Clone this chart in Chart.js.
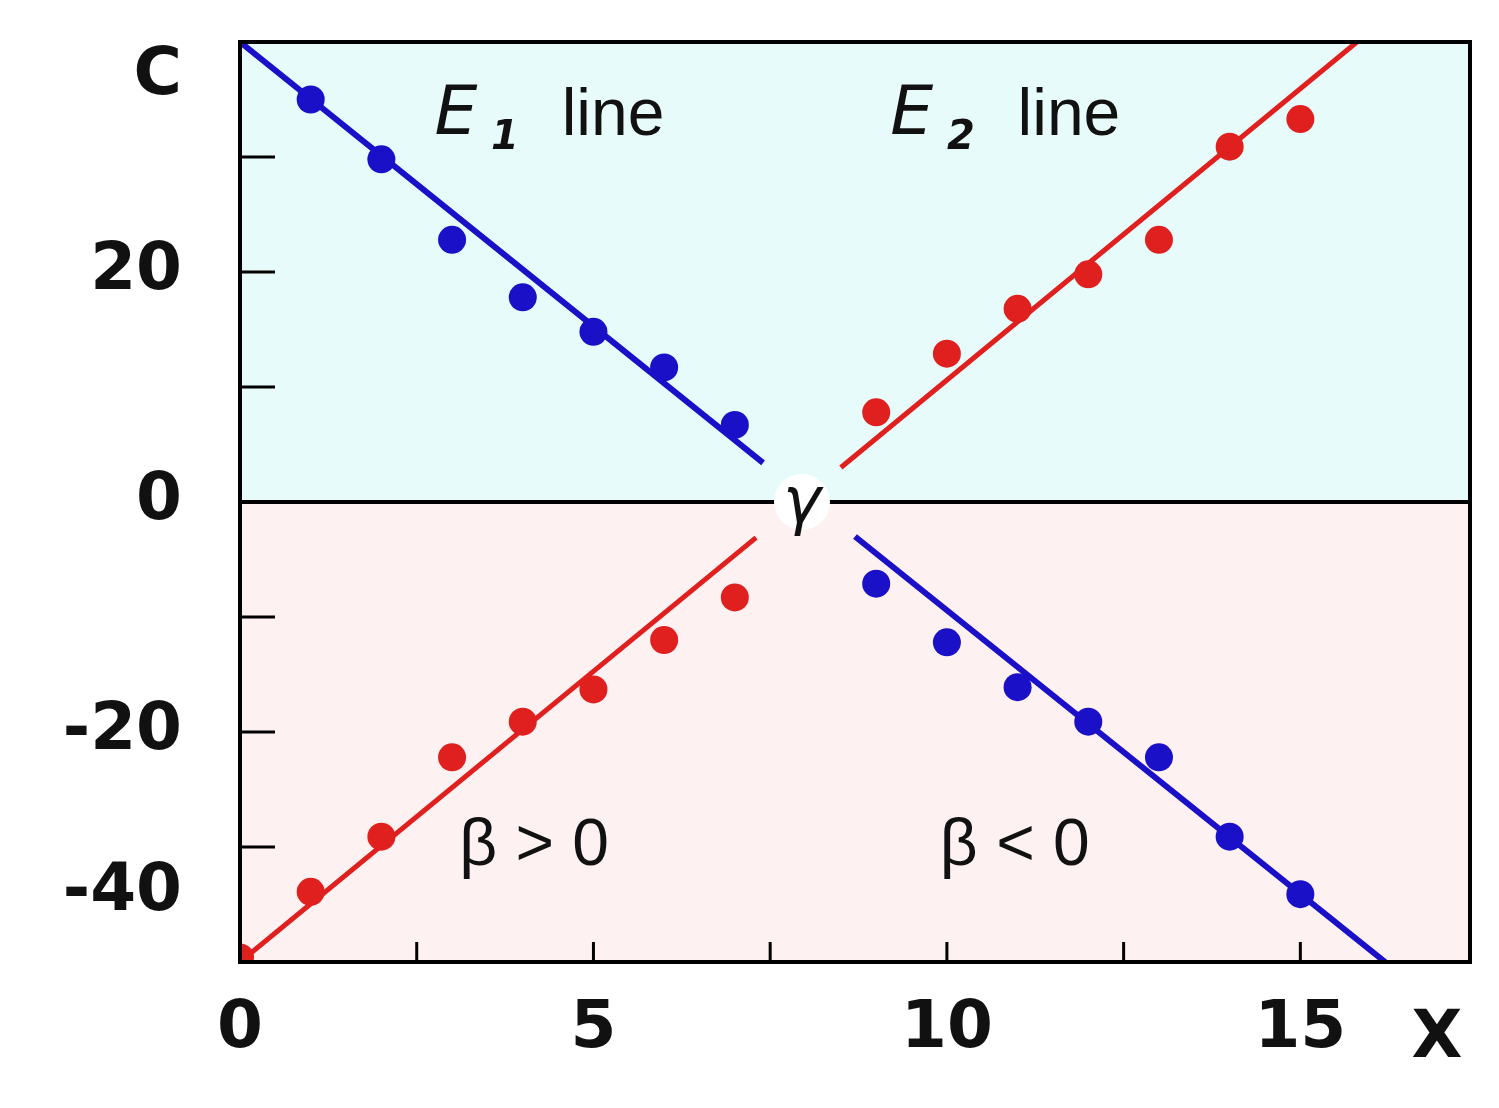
<!DOCTYPE html>
<html>
<head>
<meta charset="utf-8">
<script src="https://cdn.jsdelivr.net/npm/chart.js@4/dist/chart.umd.min.js"></script>
<style>
  html, body { margin: 0; padding: 0; background: #fff; }
  #wrap { width: 1499px; height: 1108px; }
</style>
</head>
<body>
<div id="wrap"><canvas id="myChart"></canvas></div>
<script>
const blueUpperX = [1, 2, 3, 4, 5, 6, 7];
const blueUpperY = [35.0, 29.8, 22.8, 17.8, 14.8, 11.7, 6.7];
const blueLowerX = [9, 10, 11, 12, 13, 14, 15];
const blueLowerY = [-7.1, -12.2, -16.1, -19.1, -22.2, -29.1, -34.1];
const redLowerX = [0, 1, 2, 3, 4, 5, 6, 7];
const redLowerY = [-39.6, -33.9, -29.1, -22.2, -19.1, -16.3, -12.0, -8.3];
const redUpperX = [9, 10, 11, 12, 13, 14, 15];
const redUpperY = [7.8, 12.9, 16.8, 19.8, 22.8, 30.9, 33.3];

// fitted lines (broken around the crossing point gamma)
const e1LineX = [0, 7.4, 8, 8.7, 16.2];
const e1LineY = [40, 3.4, null, -3.0, -40];
const e2LineX = [0, 7.3, 8, 8.5, 15.8];
const e2LineY = [-40, -3.1, null, 3.0, 40];

const yTickValues = [37, 20, 0, -20, -34];
const yTickText = ['C', '20', '0', '-20', '-40'];
const xTickValues = [0, 5, 10, 15];

const pts = (xa, ya) => xa.map((x, i) => ({ x: x, y: ya[i] }));
const BLUE = '#1a10c8', RED = '#e0201e';
const FONT = 'DejaVu Sans';

const decor = {
  id: 'decor',
  beforeDatasetsDraw(chart) {
    const { ctx, chartArea: a, scales: { x, y } } = chart;
    const y0 = y.getPixelForValue(0);
    ctx.save();
    ctx.fillStyle = '#e8fbfb';
    ctx.fillRect(a.left, a.top, a.right - a.left, y0 - a.top);
    ctx.fillStyle = '#fdf1f1';
    ctx.fillRect(a.left, y0, a.right - a.left, a.bottom - y0);
    ctx.strokeStyle = '#000';
    ctx.lineWidth = 4;
    ctx.beginPath();
    ctx.moveTo(a.left, y0); ctx.lineTo(a.right, y0); ctx.stroke();
    // inner ticks
    ctx.lineWidth = 3;
    for (let v = -30; v <= 30; v += 10) {
      const py = y.getPixelForValue(v);
      ctx.beginPath(); ctx.moveTo(a.left, py); ctx.lineTo(a.left + 35, py); ctx.stroke();
    }
    for (let v = 2.5; v <= 15; v += 2.5) {
      const px = x.getPixelForValue(v);
      ctx.beginPath(); ctx.moveTo(px, a.bottom); ctx.lineTo(px, a.bottom - 20); ctx.stroke();
    }
    ctx.restore();
  },
  afterDatasetsDraw(chart) {
    const { ctx, chartArea: a, scales: { x, y } } = chart;
    ctx.save();
    ctx.strokeStyle = '#000';
    ctx.lineWidth = 4;
    ctx.strokeRect(a.left, a.top, a.right - a.left, a.bottom - a.top);
    ctx.fillStyle = '#111';
    ctx.textBaseline = 'middle';
    ctx.textAlign = 'left';
    ctx.font = 'italic 68px "' + FONT + '"';
    ctx.fillText('E', x.getPixelForValue(2.75), y.getPixelForValue(33.5));
    ctx.fillText('E', x.getPixelForValue(9.2), y.getPixelForValue(33.5));
    ctx.font = 'bold italic 40px "' + FONT + '"';
    ctx.fillText('1', x.getPixelForValue(3.55), y.getPixelForValue(31.6));
    ctx.fillText('2', x.getPixelForValue(10.0), y.getPixelForValue(31.6));
    ctx.font = '66px "Liberation Sans"';
    ctx.fillText('line', x.getPixelForValue(4.55), y.getPixelForValue(33.5));
    ctx.fillText('line', x.getPixelForValue(11.0), y.getPixelForValue(33.5));
    ctx.font = '66px "Liberation Sans"';
    ctx.fillText('\u03b2 > 0', x.getPixelForValue(3.1), y.getPixelForValue(-30));
    ctx.fillText('\u03b2 < 0', x.getPixelForValue(9.9), y.getPixelForValue(-30));
    // gamma
    const gx = x.getPixelForValue(7.95), gy = y.getPixelForValue(0);
    ctx.fillStyle = '#fff';
    ctx.beginPath(); ctx.arc(gx, gy, 28, 0, Math.PI * 2); ctx.fill();
    ctx.fillStyle = '#111';
    ctx.textAlign = 'center';
    ctx.font = 'italic 64px "' + FONT + '"';
    ctx.fillText('\u03b3', gx, gy + 4);
    ctx.font = 'bold 66px "' + FONT + '"';
    ctx.fillText('X', 1437, 1040);
    ctx.restore();
  }
};

new Chart(document.getElementById('myChart'), {
  type: 'scatter',
  data: {
    datasets: [
      { type: 'line', data: pts(e1LineX, e1LineY), borderColor: BLUE, borderWidth: 6, pointRadius: 0, spanGaps: false },
      { type: 'line', data: pts(e2LineX, e2LineY), borderColor: RED, borderWidth: 5, pointRadius: 0, spanGaps: false },
      { data: pts(blueUpperX, blueUpperY).concat(pts(blueLowerX, blueLowerY)), backgroundColor: BLUE, pointRadius: 14, borderWidth: 0 },
      { data: pts(redLowerX, redLowerY).concat(pts(redUpperX, redUpperY)), backgroundColor: RED, pointRadius: 14, borderWidth: 0 }
    ]
  },
  options: {
    responsive: true,
    maintainAspectRatio: false,
    animation: false,
    layout: { padding: { top: 42, right: 29, left: 0, bottom: 0 } },
    plugins: { legend: { display: false }, tooltip: { enabled: false } },
    scales: {
      x: {
        type: 'linear', min: 0, max: 17.4,
        afterBuildTicks: s => { s.ticks = xTickValues.map(v => ({ value: v })); },
        afterFit: s => { s.height = 146; },
        grid: { display: false },
        border: { display: false },
        ticks: { callback: v => String(v), color: '#111', padding: 20, maxRotation: 0,
                 font: { family: FONT, weight: 'bold', size: 66 } }
      },
      y: {
        type: 'linear', min: -40, max: 40,
        afterBuildTicks: s => { s.ticks = yTickValues.map(v => ({ value: v })); },
        afterFit: s => { s.width = 240; s.paddingTop = 0; s.paddingBottom = 0; },
        grid: { display: false },
        border: { display: false },
        ticks: { callback: v => yTickText[yTickValues.indexOf(v)] ?? '', color: '#111', padding: 50,
                 font: { family: FONT, weight: 'bold', size: 66 } }
      }
    }
  },
  plugins: [decor]
});
</script>
</body>
</html>
